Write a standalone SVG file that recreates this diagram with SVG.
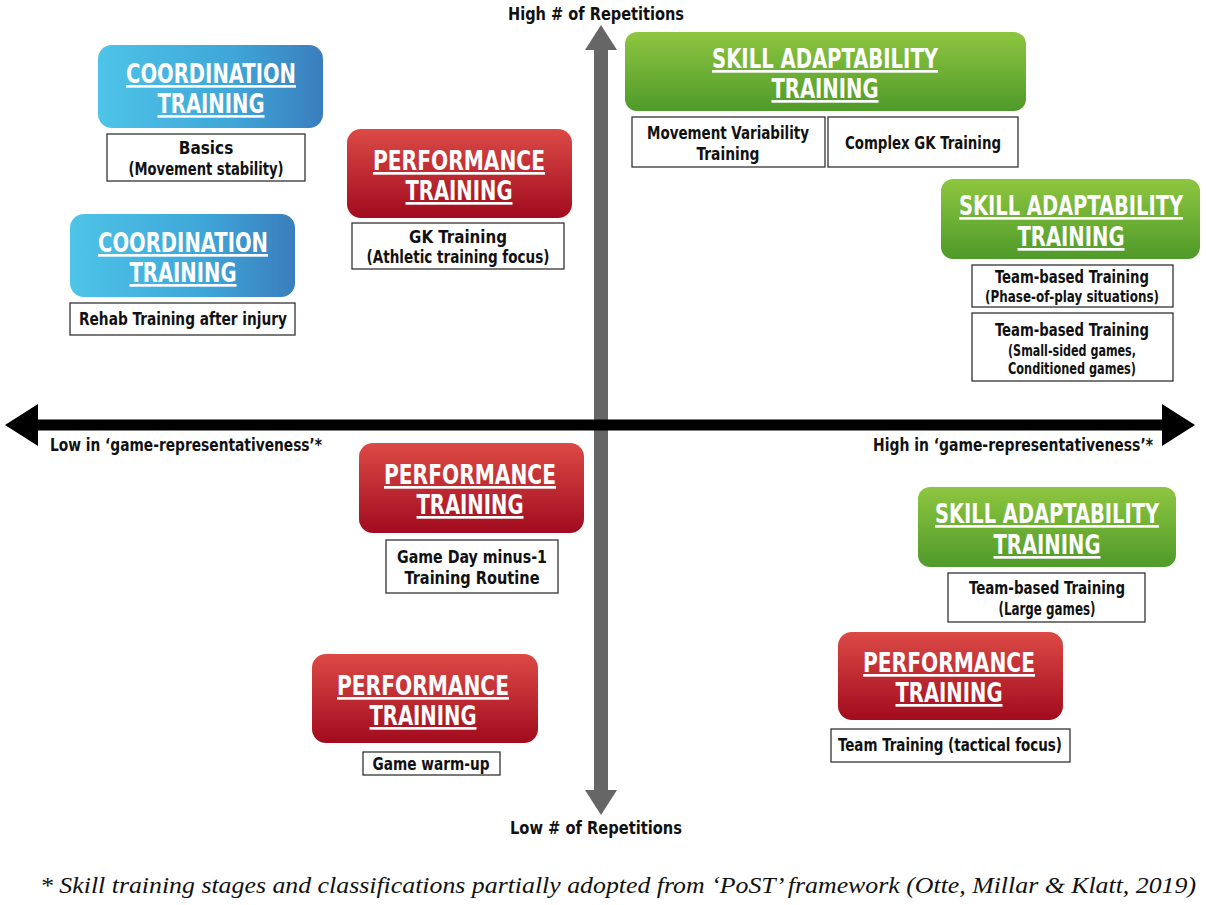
<svg xmlns="http://www.w3.org/2000/svg" width="1206" height="905" viewBox="0 0 1206 905">
<defs>
<linearGradient id="gb" x1="0" y1="0" x2="1" y2="0"><stop offset="0" stop-color="#4ec4e8"/><stop offset="0.6" stop-color="#3ea6d8"/><stop offset="1" stop-color="#3a7dbd"/></linearGradient>
<linearGradient id="gr" x1="0" y1="0" x2="0" y2="1"><stop offset="0" stop-color="#dc4a46"/><stop offset="1" stop-color="#a10b1e"/></linearGradient>
<linearGradient id="gg" x1="0" y1="0" x2="0" y2="1"><stop offset="0" stop-color="#8ec640"/><stop offset="1" stop-color="#4f9a2a"/></linearGradient>
</defs>
<style>
.h{font-family:"DejaVu Sans Condensed","DejaVu Sans",sans-serif;font-stretch:condensed;font-weight:bold;font-size:27px;fill:#fff;text-anchor:middle;text-decoration:underline}
.s{font-family:"DejaVu Sans Condensed","DejaVu Sans",sans-serif;font-stretch:condensed;font-weight:bold;font-size:17px;fill:#111;text-anchor:middle}
.ss{font-size:15px}
.b{fill:#fff;stroke:#333;stroke-width:1.3}
.ax{font-family:"DejaVu Sans Condensed","DejaVu Sans",sans-serif;font-stretch:condensed;font-weight:bold;font-size:18px;fill:#111}
</style>
<rect width="1206" height="905" fill="#fff"/>
<g id="connectors">
<line x1="601" y1="50" x2="601" y2="790" stroke="#666" stroke-width="14"/>
<polygon points="601,25 585,50 617,50" fill="#666"/>
<polygon points="601,815 585,790 617,790" fill="#666"/>
<line x1="30" y1="425" x2="1170" y2="425" stroke="#000" stroke-width="11"/>
<polygon points="5,425 38,404 38,446" fill="#000"/>
<polygon points="1195,425 1162,404 1162,446" fill="#000"/>
</g>
<g id="axis-labels">
<text class="ax" x="596" y="20" text-anchor="middle" textLength="176" lengthAdjust="spacingAndGlyphs">High # of Repetitions</text>
<text class="ax" x="596" y="834" text-anchor="middle" textLength="172" lengthAdjust="spacingAndGlyphs">Low # of Repetitions</text>
<text class="ax" x="50" y="451" textLength="272" lengthAdjust="spacingAndGlyphs">Low in ‘game-representativeness’*</text>
<text class="ax" x="873" y="451" textLength="280" lengthAdjust="spacingAndGlyphs">High in ‘game-representativeness’*</text>
</g>
<g id="coord1">
<rect x="98" y="45" width="225" height="83" rx="14" fill="url(#gb)"/>
<text class="h" x="211" y="83" textLength="170" lengthAdjust="spacingAndGlyphs">COORDINATION</text>
<text class="h" x="211" y="113" textLength="107" lengthAdjust="spacingAndGlyphs">TRAINING</text>
<rect class="b" x="107" y="134" width="198" height="47"/>
<text class="s" x="206" y="154">Basics</text><text class="s" x="206" y="175" textLength="155" lengthAdjust="spacingAndGlyphs">(Movement stability)</text>
</g>
<g id="coord2">
<rect x="70" y="214" width="225" height="83" rx="14" fill="url(#gb)"/>
<text class="h" x="183" y="252" textLength="170" lengthAdjust="spacingAndGlyphs">COORDINATION</text>
<text class="h" x="183" y="282" textLength="107" lengthAdjust="spacingAndGlyphs">TRAINING</text>
<rect class="b" x="70" y="303" width="225" height="32"/>
<text class="s" x="183" y="325" textLength="208" lengthAdjust="spacingAndGlyphs">Rehab Training after injury</text>
</g>
<g id="perf1">
<rect x="347" y="129" width="225" height="89" rx="14" fill="url(#gr)"/>
<text class="h" x="459" y="170" textLength="172" lengthAdjust="spacingAndGlyphs">PERFORMANCE</text>
<text class="h" x="459" y="200" textLength="107" lengthAdjust="spacingAndGlyphs">TRAINING</text>
<rect class="b" x="352" y="223" width="212" height="46"/>
<text class="s" x="458" y="243" textLength="98" lengthAdjust="spacingAndGlyphs">GK Training</text><text class="s" x="458" y="263" textLength="183" lengthAdjust="spacingAndGlyphs">(Athletic training focus)</text>
</g>
<g id="skill1">
<rect x="625" y="32" width="401" height="79" rx="12" fill="url(#gg)"/>
<text class="h" x="825" y="68" textLength="226" lengthAdjust="spacingAndGlyphs">SKILL ADAPTABILITY</text>
<text class="h" x="825" y="98" textLength="107" lengthAdjust="spacingAndGlyphs">TRAINING</text>
<rect class="b" x="632" y="117" width="193" height="50"/>
<text class="s" x="728" y="139" textLength="162" lengthAdjust="spacingAndGlyphs">Movement Variability</text><text class="s" x="728" y="160" textLength="63" lengthAdjust="spacingAndGlyphs">Training</text>
<rect class="b" x="828" y="117" width="190" height="50"/>
<text class="s" x="923" y="149" textLength="156" lengthAdjust="spacingAndGlyphs">Complex GK Training</text>
</g>
<g id="skill2">
<rect x="941" y="179" width="259" height="80" rx="12" fill="url(#gg)"/>
<text class="h" x="1071" y="215" textLength="224" lengthAdjust="spacingAndGlyphs">SKILL ADAPTABILITY</text>
<text class="h" x="1071" y="246" textLength="107" lengthAdjust="spacingAndGlyphs">TRAINING</text>
<rect class="b" x="972" y="265" width="201" height="42"/>
<text class="s" x="1072" y="283" textLength="154" lengthAdjust="spacingAndGlyphs">Team-based Training</text><text class="s ss" x="1072" y="302" textLength="174" lengthAdjust="spacingAndGlyphs">(Phase-of-play situations)</text>
<rect class="b" x="972" y="313" width="201" height="68"/>
<text class="s" x="1072" y="336" textLength="154" lengthAdjust="spacingAndGlyphs">Team-based Training</text><text class="s ss" x="1072" y="356" textLength="128" lengthAdjust="spacingAndGlyphs">(Small-sided games,</text><text class="s ss" x="1072" y="374" textLength="128" lengthAdjust="spacingAndGlyphs">Conditioned games)</text>
</g>
<g id="perf2">
<rect x="359" y="443" width="225" height="90" rx="14" fill="url(#gr)"/>
<text class="h" x="470" y="484" textLength="172" lengthAdjust="spacingAndGlyphs">PERFORMANCE</text>
<text class="h" x="470" y="514" textLength="107" lengthAdjust="spacingAndGlyphs">TRAINING</text>
<rect class="b" x="386" y="540" width="172" height="53"/>
<text class="s" x="472" y="563" textLength="150" lengthAdjust="spacingAndGlyphs">Game Day minus-1</text><text class="s" x="472" y="584" textLength="135" lengthAdjust="spacingAndGlyphs">Training Routine</text>
</g>
<g id="skill3">
<rect x="918" y="487" width="258" height="80" rx="12" fill="url(#gg)"/>
<text class="h" x="1047" y="523" textLength="224" lengthAdjust="spacingAndGlyphs">SKILL ADAPTABILITY</text>
<text class="h" x="1047" y="554" textLength="107" lengthAdjust="spacingAndGlyphs">TRAINING</text>
<rect class="b" x="948" y="573" width="197" height="49"/>
<text class="s" x="1047" y="594" textLength="156" lengthAdjust="spacingAndGlyphs">Team-based Training</text><text class="s" x="1047" y="615" textLength="97" lengthAdjust="spacingAndGlyphs">(Large games)</text>
</g>
<g id="perf3">
<rect x="312" y="654" width="226" height="89" rx="14" fill="url(#gr)"/>
<text class="h" x="423" y="695" textLength="172" lengthAdjust="spacingAndGlyphs">PERFORMANCE</text>
<text class="h" x="423" y="725" textLength="107" lengthAdjust="spacingAndGlyphs">TRAINING</text>
<rect class="b" x="363" y="752" width="137" height="23"/>
<text class="s" x="431" y="770" textLength="117" lengthAdjust="spacingAndGlyphs">Game warm-up</text>
</g>
<g id="perf4">
<rect x="838" y="632" width="225" height="88" rx="14" fill="url(#gr)"/>
<text class="h" x="949" y="672" textLength="172" lengthAdjust="spacingAndGlyphs">PERFORMANCE</text>
<text class="h" x="949" y="702" textLength="107" lengthAdjust="spacingAndGlyphs">TRAINING</text>
<rect class="b" x="831" y="729" width="239" height="33"/>
<text class="s" x="950" y="751" textLength="224" lengthAdjust="spacingAndGlyphs">Team Training (tactical focus)</text>
</g>
<text x="40" y="893" font-family="Liberation Serif,serif" font-style="italic" font-size="23" fill="#111" textLength="1156" lengthAdjust="spacingAndGlyphs">* Skill training stages and classifications partially adopted from ‘PoST’ framework (Otte, Millar &amp; Klatt, 2019)</text>
</svg>
